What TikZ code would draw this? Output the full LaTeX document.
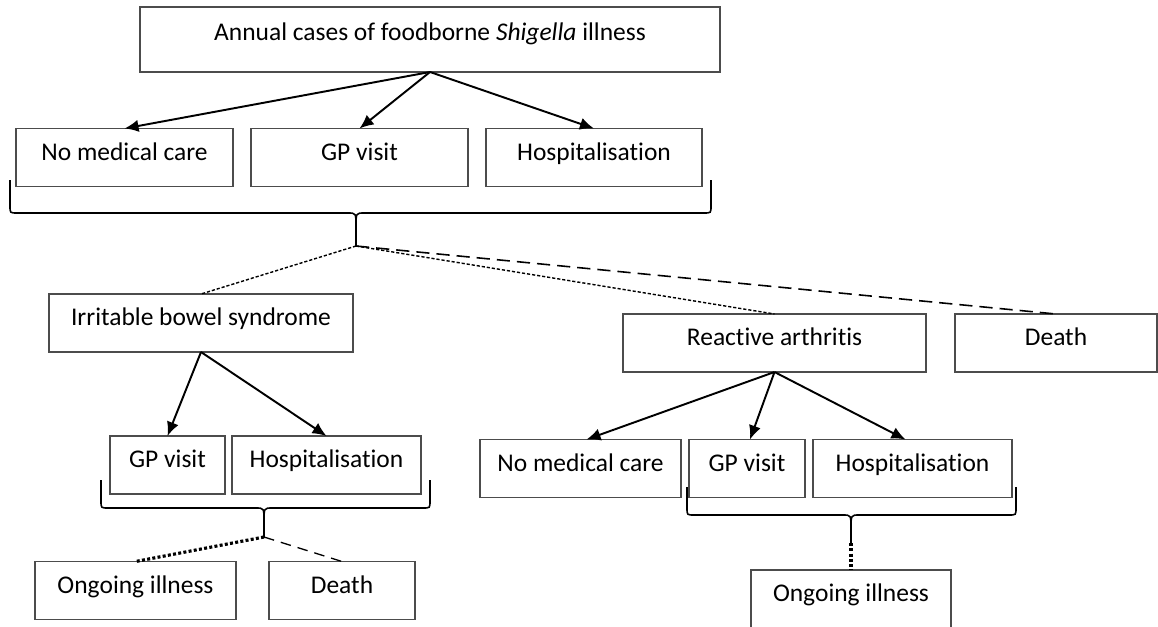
\documentclass[tikz,border=0pt]{standalone}
\usepackage{fontspec}
\setmainfont{Carlito}[Ligatures=NoCommon]
\usetikzlibrary{arrows.meta}
\usetikzlibrary{calc}
\newcommand{\pxunit}{0.02cm}
\tikzstyle{box}=[rectangle,draw=black!70,line width=0.7pt,inner sep=0pt,outer sep=0pt,minimum height=58*\pxunit,font=\fontsize{14.5}{17}\selectfont,text height=0.7em,text depth=0.38em]
\tikzstyle{edge} = [draw,line width=1.1pt,-{Latex[length=8pt,width=7pt]}]
\tikzstyle{brace} = [draw,line width=0.9pt]
\tikzstyle{finedotted} = [draw,line width=0.8pt,dash pattern=on 1.8pt off 1.1pt]
\tikzstyle{longdashed} = [draw,line width=0.9pt,dash pattern=on 7.5pt off 4pt]
\tikzstyle{thickdotted} = [draw,line width=1.8pt,dash pattern=on 1.7pt off 1.3pt]
\tikzstyle{shortdashed} = [draw,line width=0.75pt,dash pattern=on 6pt off 4pt]
% brace under a group: tip name, left, right, top, line, middle, tip
\newcommand{\groupbrace}[7]{%
  \draw[brace] (#2,#4) -- (#2,#5-7) .. controls (#2,#5) .. (#2+7,#5) -- (#6-8,#5) .. controls (#6,#5) .. (#6,#5+14) -- (#6,#7);
  \draw[brace] (#3,#4) -- (#3,#5-7) .. controls (#3,#5) .. (#3-7,#5) -- (#6+8,#5) .. controls (#6,#5) .. (#6,#5+14);
  \coordinate (#1) at (#6,#7);
}
\begin{document}
\begin{tikzpicture}[x=\pxunit, y=-\pxunit]
    \useasboundingbox (0,0) rectangle (1158,626);
    \clip (0,0) rectangle (1158,626);
    % First we draw the boxes
    \node[box, minimum width=580*\pxunit, minimum height=65*\pxunit, text depth=0.6em] (top) at (430,39.5) {Annual cases of foodborne \textit{Shigella} illness};

    \foreach \pos/\name/\label/\w in {{(124.5,157.5)/nmc1/No medical care/217}, {(359.5,157.5)/gp1/GP visit/217}, {(594,157.5)/hosp1/Hospitalisation/216},
        {(201,323)/ibs/Irritable bowel syndrome/304}, {(774.5,343)/ra/Reactive arthritis/303}, {(1056,343)/death1/Death/202},
        {(167.5,465)/gp2/GP visit/115}, {(326.5,465)/hosp2/Hospitalisation/189}, {(135.5,590.5)/og1/Ongoing illness/201}, {(342,590.5)/death2/Death/146},
        {(580.5,468.5)/nmc2/No medical care/201}, {(747,468.5)/gp3/GP visit/116}, {(912.5,468.5)/hosp3/Hospitalisation/199}, {(851,599)/og2/Ongoing illness/200}}
        \node[box, minimum width=\w*\pxunit] (\name) at \pos {\label};

    % Arrows from each illness to its care levels
    \foreach \source/\dest in {top/nmc1, top/gp1, top/hosp1, ibs/gp2, ibs/hosp2}
        \path[edge] (\source.south) -- (\dest.north);
    \path[edge] (ra.south) -- ($(nmc2.north)+(6,0)$);
    \path[edge] (ra.south) -- ($(gp3.north)+(3,0)$);
    \path[edge] (ra.south) -- ($(hosp3.north)+(-7,0)$);

    % Braces and the outcomes below them
    \groupbrace{brtop}{10}{711}{180}{213}{356}{246}
    \groupbrace{bribs}{101}{430}{480}{508}{264}{537}
    \groupbrace{brra}{687}{1016}{487}{515}{851}{543}

    \path[finedotted] (brtop) -- (ibs.north);
    \path[finedotted] (brtop) -- (ra.north);
    \path[longdashed] (brtop) -- (death1.north);
    \path[thickdotted] (bribs) -- (og1.north);
    \path[shortdashed] (bribs) -- (death2.north);
    \path[thickdotted] (brra) -- (og2.north);
\end{tikzpicture}
\end{document}
